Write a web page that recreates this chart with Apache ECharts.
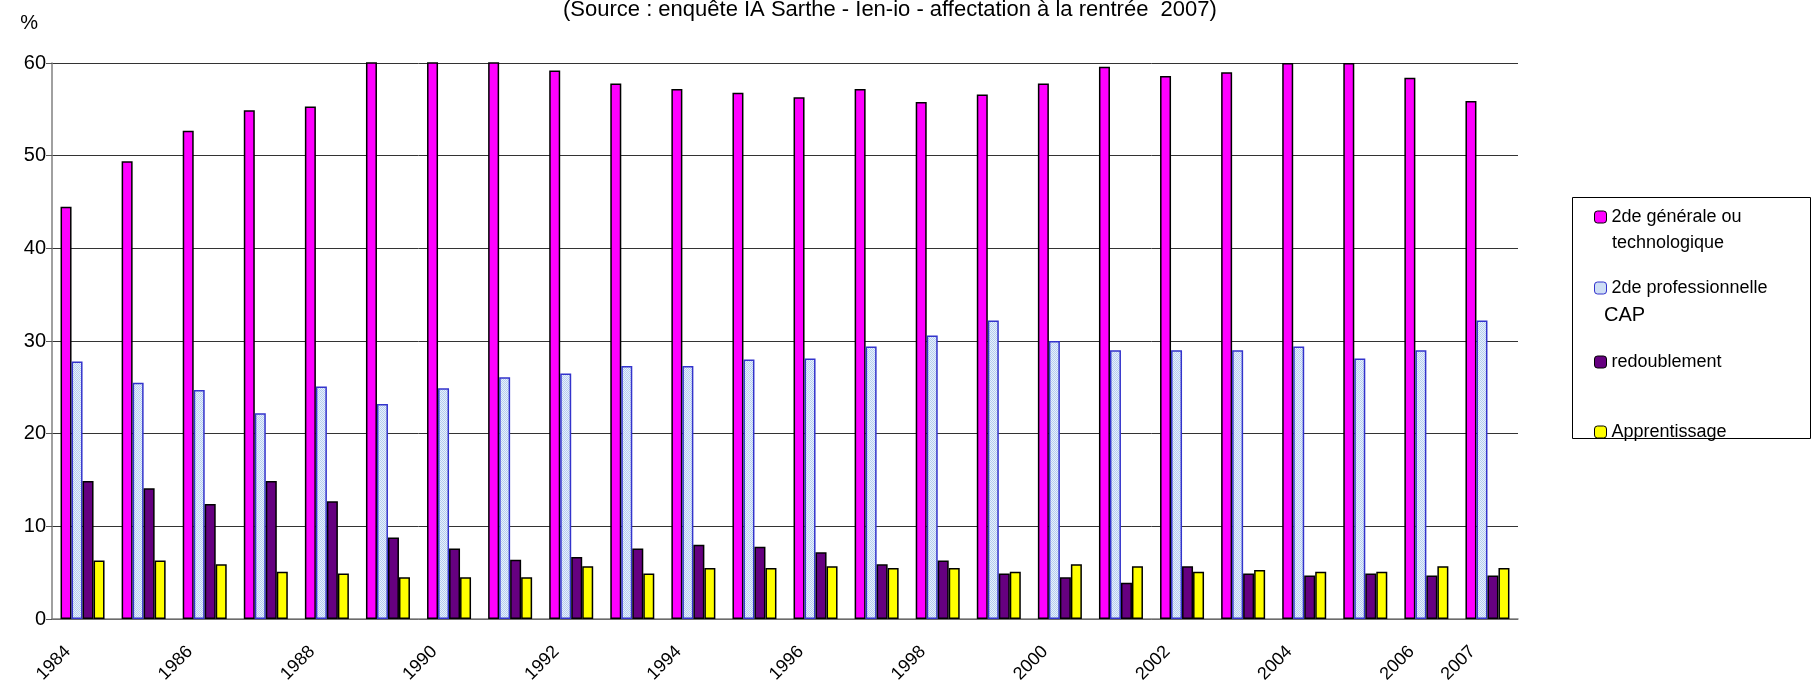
<!DOCTYPE html>
<html>
<head>
<meta charset="utf-8">
<title>Orientation après la 3e - Sarthe</title>
<script src="https://cdn.jsdelivr.net/npm/echarts@6/dist/echarts.min.js"></script>
<style>
  html, body { margin: 0; padding: 0; background: #fff; }
  #chart { width: 1812px; height: 683px; }
</style>
</head>
<body>
<div id="chart"></div>
<script>
// données
var annees = ['1984', '1985', '1986', '1987', '1988', '1989', '1990', '1991', '1992', '1993', '1994', '1995',
              '1996', '1997', '1998', '1999', '2000', '2001', '2002', '2003', '2004', '2005', '2006', '2007'];
var generale = [44.5, 49.4, 52.7, 54.9, 55.3, 61, 61, 61, 59.2, 57.8, 57.2, 56.8,
                56.3, 57.2, 55.8, 56.6, 57.8, 59.6, 58.6, 59.0, 60.0, 60.0, 58.4, 55.9];
var pro = [27.8, 25.5, 24.7, 22.2, 25.1, 23.2, 24.9, 26.1, 26.5, 27.3, 27.3, 28.0,
           28.1, 29.4, 30.6, 32.2, 30.0, 29.0, 29.0, 29.0, 29.4, 28.1, 29.0, 32.2];
var redoublement = [14.9, 14.1, 12.4, 14.9, 12.7, 8.8, 7.6, 6.4, 6.7, 7.6, 8.0, 7.8,
                    7.2, 5.9, 6.3, 4.9, 4.5, 3.9, 5.7, 4.9, 4.7, 4.9, 4.7, 4.7];
var apprentissage = [6.3, 6.3, 5.9, 5.1, 4.9, 4.5, 4.5, 4.5, 5.7, 4.9, 5.5, 5.5,
                     5.7, 5.5, 5.5, 5.1, 5.9, 5.7, 5.1, 5.3, 5.1, 5.1, 5.7, 5.5];
var noms = ['2de générale ou technologique', '2de professionnelle CAP', 'redoublement', 'Apprentissage'];
var legendes = ['2de générale ou', '2de professionnelle', 'redoublement', 'Apprentissage'];

var police = '"Liberation Sans", Arial, sans-serif';

// motif pointillé bleu clair
var motif = document.createElement('canvas');
motif.width = 2;
motif.height = 2;
var ctx = motif.getContext('2d');
ctx.fillStyle = '#e8f0fb';
ctx.fillRect(0, 0, 2, 2);
ctx.fillStyle = '#b4cdf0';
ctx.fillRect(0, 0, 1, 1);
ctx.fillRect(1, 1, 1, 1);

var styles = [
    { color: '#ff00ff', borderColor: '#000', borderWidth: 1.5 },
    { color: { image: motif, repeat: 'repeat' }, borderColor: '#3333cc', borderWidth: 1.5 },
    { color: '#660080', borderColor: '#000', borderWidth: 1.5 },
    { color: '#ffff00', borderColor: '#000', borderWidth: 1.5 }
];
var valeurs = [generale, pro, redoublement, apprentissage];
var centresLegende = [217, 288, 362, 432];

var series = [];
var legend = [];
for (var i = 0; i < noms.length; i++) {
    series.push({
        name: noms[i],
        type: 'bar',
        barWidth: 11,
        barGap: '0%',
        clip: true,
        itemStyle: styles[i],
        data: valeurs[i]
    });
    legend.push({
        data: [{ name: noms[i], itemStyle: { borderColor: styles[i].borderColor, borderWidth: 1 } }],
        left: 1594,
        top: centresLegende[i] - 10,
        padding: 0,
        itemWidth: 12,
        itemHeight: 12,
        formatter: (function (txt) { return function () { return txt; }; })(legendes[i]),
        textStyle: { fontFamily: police, fontSize: 18, lineHeight: 20, color: '#000' }
    });
}

var myChart = echarts.init(document.getElementById('chart'));
var option = {
    animation: false,
    backgroundColor: '#fff',
    title: {
        text: '(Source : enquête IA Sarthe - Ien-io - affectation à la rentrée  2007)',
        left: 563,
        top: -1,
        padding: 0,
        textStyle: { fontFamily: police, fontSize: 22, fontWeight: 'normal', color: '#000' }
    },
    legend: legend,
    grid: { left: 52, top: 63, width: 1466, height: 556, containLabel: false, outerBoundsMode: 'none' },
    xAxis: {
        type: 'category',
        data: annees,
        boundaryGap: true,
        axisLine: { lineStyle: { color: '#808080', width: 1.5 } },
        axisTick: { interval: 0, alignWithLabel: false, length: 6, lineStyle: { color: '#555' } },
        axisLabel: {
            interval: function (idx) { return idx % 2 === 0 || idx === annees.length - 1; },
            rotate: 45,
            margin: 15,
            padding: [0, 21, 0, 0],
            fontFamily: police,
            fontSize: 18,
            color: '#000'
        },
        splitLine: { show: false }
    },
    yAxis: {
        type: 'value',
        min: 0,
        max: 60,
        interval: 10,
        name: '%',
        nameLocation: 'end',
        nameGap: 30,
        nameTextStyle: { fontFamily: police, fontSize: 20, color: '#000', align: 'right', padding: [0, 14, 0, 0] },
        axisLine: { show: true, lineStyle: { color: '#808080', width: 1.5 } },
        axisTick: { show: true, length: 6, lineStyle: { color: '#555' } },
        axisLabel: { margin: 6, fontFamily: police, fontSize: 20, color: '#000' },
        splitLine: { lineStyle: { color: '#333', width: 1 } }
    },
    graphic: [
        {
            type: 'rect',
            z: -1,
            shape: { x: 1572.5, y: 197.5, width: 238, height: 241 },
            style: { fill: 'none', stroke: '#000', lineWidth: 1 }
        },
        {
            type: 'text',
            x: 1612,
            y: 243,
            style: { text: 'technologique', font: '18px ' + police, fill: '#000', verticalAlign: 'middle' }
        },
        {
            type: 'text',
            x: 1604,
            y: 315,
            style: { text: 'CAP', font: '20px ' + police, fill: '#000', verticalAlign: 'middle' }
        }
    ],
    series: series
};
myChart.setOption(option);
</script>
</body>
</html>
